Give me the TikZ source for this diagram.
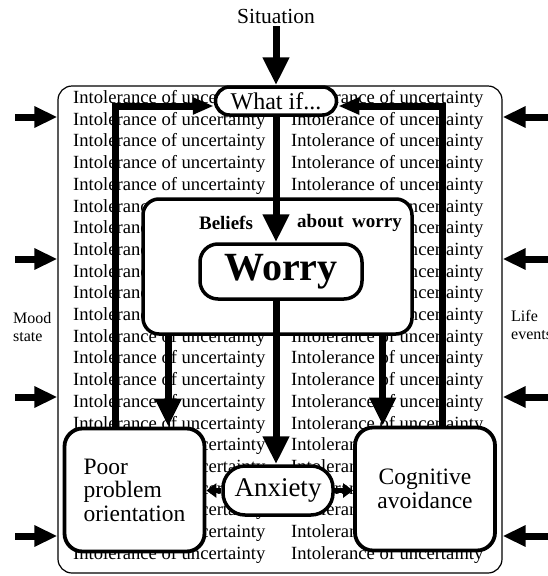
\documentclass[tikz,border=0pt]{standalone}
\usepackage{fontspec}
\setmainfont{Liberation Serif}
\usetikzlibrary{arrows.meta,positioning,calc}

\begin{document}
\begin{tikzpicture}[
  x=1pt, y=-1pt,
  iutext/.style={anchor=west, inner sep=0pt, font=\fontsize{18.6}{20}\selectfont},
  framebox/.style={rectangle, rounded corners=14pt, draw, line width=1.2pt,
                   minimum width=444pt, minimum height=487pt},
  pillnode/.style={rectangle, rounded corners=14pt, draw, line width=3.5pt,
                   fill=white, inner sep=0pt},
  bigbox/.style={rectangle, rounded corners=18pt, draw, line width=3.8pt, fill=white,
                 minimum width=140pt, minimum height=123pt, inner sep=0pt,
                 font=\fontsize{23.5}{23.5}\selectfont},
  boldlabel/.style={inner sep=0pt, font=\bfseries\fontsize{19}{19}\selectfont},
  sidelabel/.style={anchor=west, align=left, inner sep=0pt,
                    font=\fontsize{16}{18}\selectfont},
  flow/.style={-{Triangle[length=28pt, width=25pt]}, line width=7pt},
  loopflow/.style={-{Triangle[length=21pt, width=16pt]}, line width=7pt},
  sideflow/.style={-{Triangle[length=23pt, width=20pt]}, line width=7pt},
  shortflow/.style={-{Triangle[length=10pt, width=14pt]}, line width=5pt}
]
\useasboundingbox (0,0) rectangle (548,576);

% Outer frame
\node[framebox] (frame) at (280,329.5) {};

% Background text
\foreach \r in {0,...,21}{
  \node[iutext] (iuL\r) at (73,{99+21.7*\r}) {Intolerance of uncertainty};
  \node[iutext] (iuR\r) at (291,{99+21.7*\r}) {Intolerance of uncertainty};
}

% What if and situation
\node[pillnode, minimum width=121pt, minimum height=28pt,
      font=\fontsize{24}{24}\selectfont] (whatif) at (276,101) {What if...};
\node[above=59pt of whatif, inner sep=2pt,
      font=\fontsize{21.5}{22}\selectfont] (situation) {Situation};

% Beliefs about worry
\node[rectangle, rounded corners=16pt, draw, line width=3.5pt, fill=white,
      minimum width=269pt, minimum height=135pt] (beliefs) at (277.5,266.5) {};
\node[boldlabel] (beliefslbl) at (226,223) {Beliefs};
\node[boldlabel] (aboutlbl) at (349.5,223) {about\hspace{0.45em}worry};
\node[pillnode, rounded corners=18pt, minimum width=162pt, minimum height=55pt,
      font=\bfseries\fontsize{40}{40}\selectfont] (worry) at (281,271.5) {Worry};

% Anxiety and the two outcomes
\node[pillnode, rounded corners=22pt, minimum width=110pt, minimum height=49pt,
      font=\fontsize{27}{27}\selectfont] (anxiety) at (278,490.5) {Anxiety};
\node[bigbox, align=left] (poor) at (134.5,490) {Poor\\problem\\orientation};
\node[bigbox, align=center] (cogn) at (425,489) {Cognitive\\avoidance};

% Side labels
\node[sidelabel] (mood) at (13,327) {Mood\\state};
\node[sidelabel] (life) at (511,324.5) {Life\\events};

% Side arrows
\foreach \yy [count=\k] in {117,259,397,536}{
  \coordinate (inL\k) at (15,\yy);
  \coordinate (inR\k) at (548,\yy);
  \draw[sideflow] (inL\k) -- (inL\k -| frame.west);
  \draw[sideflow] (inR\k) -- (inR\k -| frame.east);
}

% Main flow
\draw[flow] (situation) -- (whatif);
\draw[flow] (whatif) -- (whatif |- worry.north);
\draw[flow] (worry.south -| whatif) -- (anxiety.north -| whatif);

\coordinate (bl) at ([xshift=27pt]beliefs.south west);
\coordinate (br) at ([xshift=-31pt]beliefs.south east);
\draw[flow] (bl) -- (bl |- poor.north);
\draw[flow] (br) -- (br |- cogn.north);

% Feedback loops
\coordinate (ll) at ([xshift=53pt]poor.north west);
\coordinate (rl) at ([xshift=-54pt]cogn.north east);
\draw[loopflow] (ll) |- ([yshift=-5pt]whatif.west);
\draw[loopflow] (rl) |- ([yshift=-5pt]whatif.east);

% Anxiety outputs
\draw[shortflow] (anxiety.west) -- (anxiety.west -| poor.east);
\draw[shortflow] (anxiety.east) -- (anxiety.east -| cogn.west);

\end{tikzpicture}
\end{document}
